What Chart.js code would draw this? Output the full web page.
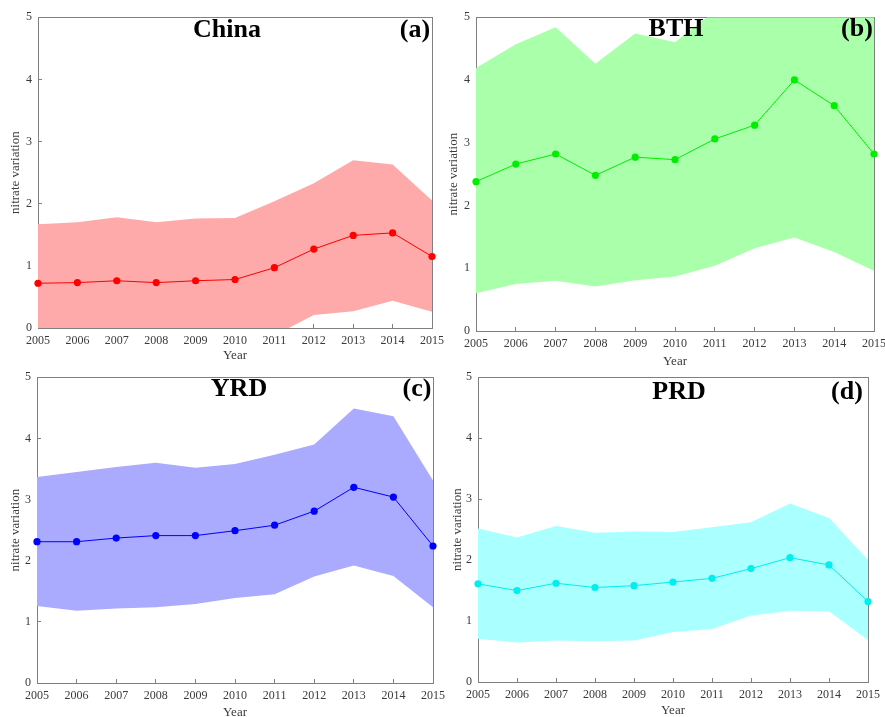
<!DOCTYPE html>
<html>
<head>
<meta charset="utf-8">
<script src="https://cdn.jsdelivr.net/npm/chart.js@4"></script>
<style>
  html, body { margin: 0; padding: 0; background: #fff; overflow: hidden; }
  .panel { position: absolute; }
</style>
</head>
<body>
<div class="panel" style="left:0;top:0"><canvas id="pa" width="470" height="370"></canvas></div>
<div class="panel" style="left:445px;top:0"><canvas id="pb" width="460" height="370"></canvas></div>
<div class="panel" style="left:0;top:360px"><canvas id="pc" width="470" height="366"></canvas></div>
<div class="panel" style="left:445px;top:360px"><canvas id="pd" width="460" height="366"></canvas></div>
<script>
var years = ['2005','2006','2007','2008','2009','2010','2011','2012','2013','2014','2015'];
var yTicks = [0, 1, 2, 3, 4, 5];

// China
var chinaMean  = [0.72, 0.73, 0.76, 0.73, 0.76, 0.78, 0.97, 1.27, 1.49, 1.53, 1.15];
var chinaUpper = [1.67, 1.70, 1.78, 1.70, 1.76, 1.77, 2.04, 2.33, 2.70, 2.63, 2.05];
var chinaLower = [-0.23, -0.24, -0.26, -0.24, -0.24, -0.21, -0.12, 0.21, 0.27, 0.44, 0.26];

// BTH
var bthMean  = [2.38, 2.66, 2.82, 2.48, 2.77, 2.73, 3.06, 3.28, 4.00, 3.59, 2.82];
var bthUpper = [4.19, 4.57, 4.84, 4.26, 4.74, 4.60, 5.10, 5.30, 6.50, 5.90, 5.20];
var bthLower = [0.60, 0.75, 0.80, 0.71, 0.81, 0.87, 1.04, 1.32, 1.49, 1.26, 0.96];

// YRD
var yrdMean  = [2.31, 2.31, 2.37, 2.41, 2.41, 2.49, 2.58, 2.81, 3.20, 3.04, 2.24];
var yrdUpper = [3.37, 3.45, 3.53, 3.60, 3.52, 3.58, 3.73, 3.90, 4.49, 4.36, 3.31];
var yrdLower = [1.26, 1.18, 1.22, 1.24, 1.29, 1.39, 1.45, 1.74, 1.92, 1.75, 1.24];

// PRD
var prdMean  = [1.61, 1.50, 1.62, 1.55, 1.58, 1.64, 1.70, 1.86, 2.04, 1.92, 1.32];
var prdUpper = [2.52, 2.37, 2.56, 2.45, 2.47, 2.46, 2.54, 2.62, 2.93, 2.69, 2.00];
var prdLower = [0.71, 0.65, 0.68, 0.67, 0.68, 0.82, 0.87, 1.09, 1.17, 1.16, 0.69];

var serif = "'Liberation Serif', 'Times New Roman', serif";
var axisGrey = '#808080';
var labelGrey = '#3a3a3a';

// titles drawn in the chart area
var panelTitles = {
  id: 'panelTitles',
  afterDraw: function(chart) {
    var o = chart.options.plugins.panelTitles;
    var c = chart.ctx;
    c.save();
    c.fillStyle = '#000';
    c.font = 'bold 26px ' + serif;
    c.textAlign = 'center';
    c.textBaseline = 'middle';
    c.fillText(o.name, o.nameX, o.y);
    c.fillText(o.tag, o.tagX, o.y);
    c.restore();
  }
};

function panel(id, mean, upper, lower, line, band, g) {
  var ctx = document.getElementById(id);
  var H = ctx.height, W = ctx.width;
  return new Chart(ctx, {
    type: 'line',
    data: {
      labels: years,
      datasets: [
        { data: mean, borderColor: line, backgroundColor: line, borderWidth: 1,
          pointRadius: 3.6, pointBackgroundColor: line, pointBorderWidth: 0,
          fill: false, clip: false, tension: 0 },
        { data: upper, borderWidth: 0, pointRadius: 0, backgroundColor: band,
          borderColor: band, fill: '+1', tension: 0 },
        { data: lower, borderWidth: 0, pointRadius: 0, backgroundColor: band,
          borderColor: band, fill: false, tension: 0 }
      ]
    },
    options: {
      responsive: false,
      animation: false,
      events: [],
      layout: { padding: { left: 0, top: g.top, right: W - g.right, bottom: 0 } },
      plugins: {
        legend: { display: false },
        tooltip: { enabled: false },
        panelTitles: g.titles
      },
      scales: {
        x: {
          position: 'bottom',
          offset: false,
          grid: { drawOnChartArea: false, drawTicks: true, tickLength: -4, color: axisGrey },
          border: { color: axisGrey, width: 1 },
          ticks: { autoSkip: false, maxRotation: 0, padding: 10, color: labelGrey,
                   font: { family: serif, size: 12 } },
          title: { display: true, text: 'Year', color: labelGrey,
                   font: { family: serif, size: 13 }, padding: { top: 0, bottom: g.yearPad } },
          afterFit: function(s) { s.height = H - g.bottom; }
        },
        x2: {
          position: 'top',
          offset: false,
          grid: { drawOnChartArea: false, drawTicks: false },
          border: { color: axisGrey, width: 1 },
          ticks: { display: false },
          afterFit: function(s) { s.height = 0; }
        },
        y: {
          position: 'left',
          min: 0, max: 5,
          afterBuildTicks: function(s) { s.ticks = yTicks.map(function(v) { return { value: v }; }); },
          grid: { drawOnChartArea: false, drawTicks: true, tickLength: -4, color: axisGrey },
          border: { color: axisGrey, width: 1 },
          ticks: { padding: 10, color: labelGrey, font: { family: serif, size: 12 } },
          title: { display: true, text: 'nitrate variation', color: labelGrey,
                   font: { family: serif, size: 13 }, padding: { top: g.yTitle, bottom: 0 } },
          afterFit: function(s) { s.width = g.left; }
        },
        y2: {
          position: 'right',
          min: 0, max: 5,
          grid: { drawOnChartArea: false, drawTicks: false },
          border: { color: axisGrey, width: 1 },
          ticks: { display: false },
          afterFit: function(s) { s.width = 0; }
        }
      }
    },
    plugins: [panelTitles]
  });
}

panel('pa', chinaMean, chinaUpper, chinaLower, '#ff0000', 'rgba(255,170,170,1)', {
  top: 17, left: 38, right: 432, bottom: 328, yearPad: 7, yTitle: 8,
  titles: { name: 'China', tag: '(a)', nameX: 227, tagX: 415, y: 30 }
});
panel('pb', bthMean, bthUpper, bthLower, '#00ee00', 'rgba(170,255,170,1)', {
  top: 17, left: 31, right: 429, bottom: 331, yearPad: 1, yTitle: 1,
  titles: { name: 'BTH', tag: '(b)', nameX: 231, tagX: 412, y: 29 }
});
panel('pc', yrdMean, yrdUpper, yrdLower, '#0000ff', 'rgba(170,170,255,1)', {
  top: 13, left: 37, right: 433, bottom: 323, yearPad: 6, yTitle: 8,
  titles: { name: 'YRD', tag: '(c)', nameX: 239, tagX: 417, y: 29 }
});
panel('pd', prdMean, prdUpper, prdLower, '#00eeee', 'rgba(170,255,255,1)', {
  top: 16, left: 33, right: 423, bottom: 322, yearPad: 8, yTitle: 5,
  titles: { name: 'PRD', tag: '(d)', nameX: 234, tagX: 402, y: 32 }
});
</script>
</body>
</html>
